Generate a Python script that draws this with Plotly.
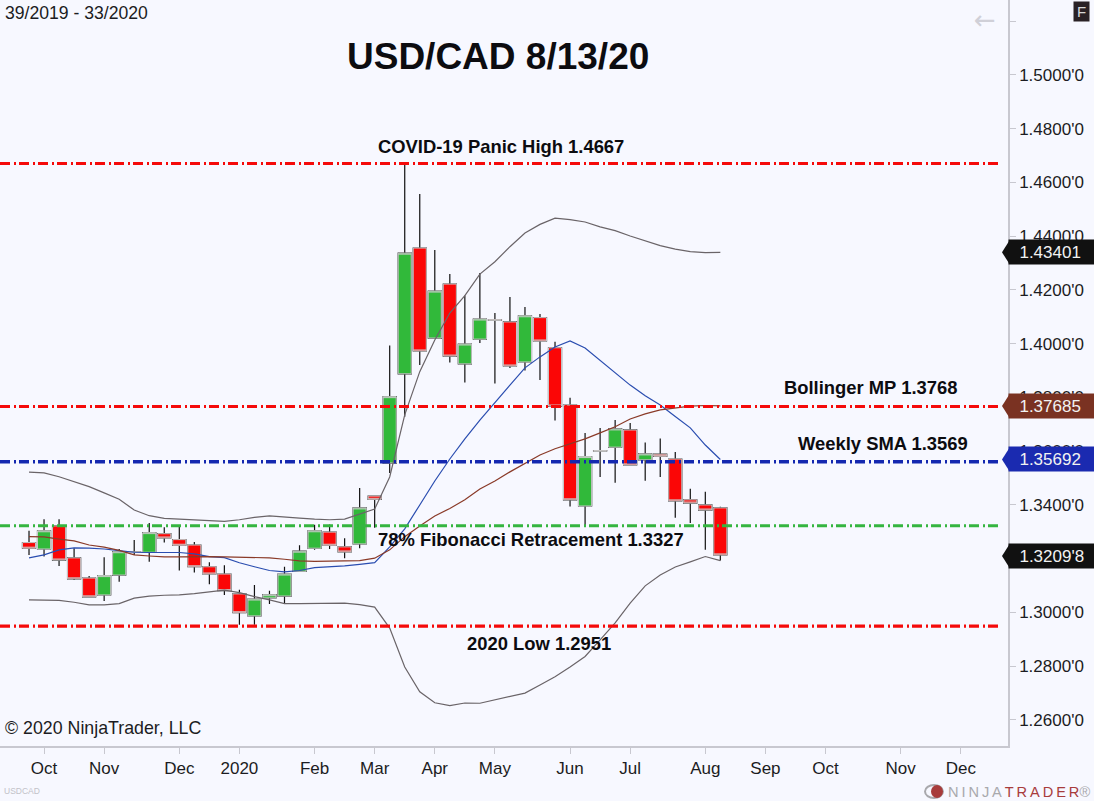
import plotly.graph_objects as go

# weekly bars, week 39/2019 to week 33/2020
weeks = list(range(47))
opens = [1.3260,1.3236,1.3322,1.3203,1.3128,1.3065,1.3139,1.3225,1.3224,1.3293,1.3271,1.3251,1.3170,1.3143,1.3069,1.2987,1.3054,1.3061,1.3153,1.3239,1.3299,1.3244,1.3255,1.3433,1.3556,1.3888,1.4356,1.4021,1.4222,1.3925,1.4017,1.4089,1.4081,1.3932,1.4097,1.3985,1.3772,1.3396,1.3602,1.3615,1.3679,1.3568,1.3589,1.3571,1.3419,1.3400,1.3389]
highs = [1.3304,1.3347,1.3347,1.3239,1.3136,1.3205,1.3236,1.3270,1.3333,1.3317,1.3322,1.3262,1.3187,1.3176,1.3084,1.3102,1.3081,1.3170,1.3250,1.3326,1.3327,1.3276,1.3463,1.3435,1.3993,1.4667,1.4557,1.4349,1.4259,1.4179,1.4263,1.4114,1.4174,1.4137,1.4111,1.4007,1.3799,1.3668,1.3686,1.3716,1.3705,1.3632,1.3647,1.3597,1.3460,1.3449,1.3393]
lows = [1.3214,1.3208,1.3173,1.3121,1.3057,1.3043,1.3114,1.3214,1.3189,1.3260,1.3156,1.3149,1.3105,1.3065,1.2954,1.2954,1.3031,1.3034,1.3153,1.3233,1.3236,1.3202,1.3239,1.3315,1.3519,1.3728,1.3921,1.4021,1.3930,1.3856,1.4003,1.3852,1.3910,1.3900,1.3865,1.3714,1.3394,1.3318,1.3504,1.3483,1.3549,1.3490,1.3504,1.3352,1.3333,1.3233,1.3193]
closes = [1.3239,1.3304,1.3195,1.3125,1.3058,1.3137,1.3226,1.3223,1.3297,1.3277,1.3250,1.3170,1.3143,1.3081,1.2999,1.3050,1.3066,1.3143,1.3228,1.3304,1.3250,1.3225,1.3389,1.3421,1.3803,1.4337,1.3973,1.4196,1.3954,1.3999,1.4092,1.4088,1.3917,1.4104,1.4010,1.3768,1.3419,1.3580,1.3601,1.3683,1.3549,1.3590,1.3581,1.3415,1.3407,1.3381,1.3214]

upper_band = [1.3522,1.3519,1.3505,1.3487,1.3468,1.3445,1.3421,1.3381,1.3360,1.3350,1.3347,1.3345,1.3342,1.3339,1.3345,1.3354,1.3359,1.3356,1.3351,1.3347,1.3345,1.3347,1.3366,1.3385,1.3504,1.3735,1.3896,1.4014,1.4114,1.4179,1.4259,1.4305,1.4361,1.4412,1.4444,1.4467,1.4462,1.4453,1.4435,1.4421,1.4401,1.4382,1.4365,1.4352,1.4343,1.4339,1.4340]
lower_band = [1.3047,1.3047,1.3045,1.3038,1.3028,1.3028,1.3033,1.3053,1.3061,1.3064,1.3065,1.3070,1.3076,1.3083,1.3074,1.3059,1.3047,1.3033,1.3033,1.3033,1.3033,1.3035,1.3029,1.3020,1.2942,1.2797,1.2705,1.2664,1.2653,1.2663,1.2662,1.2674,1.2686,1.2700,1.2730,1.2761,1.2797,1.2836,1.2898,1.2961,1.3035,1.3099,1.3139,1.3169,1.3188,1.3208,1.3193]
sma_line = [1.3203,1.3214,1.3233,1.3240,1.3239,1.3236,1.3230,1.3224,1.3223,1.3223,1.3223,1.3218,1.3208,1.3204,1.3185,1.3170,1.3156,1.3151,1.3156,1.3167,1.3170,1.3173,1.3179,1.3185,1.3244,1.3311,1.3400,1.3489,1.3571,1.3646,1.3716,1.3783,1.3846,1.3910,1.3951,1.3988,1.4010,1.3984,1.3937,1.3891,1.3846,1.3806,1.3772,1.3729,1.3687,1.3623,1.3569]
mid_band = [1.3282,1.3281,1.3273,1.3266,1.3251,1.3243,1.3231,1.3214,1.3210,1.3207,1.3207,1.3208,1.3208,1.3207,1.3205,1.3204,1.3203,1.3198,1.3192,1.3190,1.3190,1.3192,1.3193,1.3202,1.3233,1.3282,1.3322,1.3359,1.3387,1.3419,1.3459,1.3489,1.3523,1.3556,1.3586,1.3609,1.3627,1.3646,1.3668,1.3691,1.3720,1.3739,1.3754,1.3762,1.3768,1.3770,1.3769]

# levels as drawn in the picture
level_covid = 1.4671
level_boll = 1.3766
level_sma = 1.3561
level_fib = 1.3323
level_low = 1.2949

price_ticks = [1.26,1.28,1.30,1.32,1.34,1.36,1.38,1.40,1.42,1.44,1.46,1.48,1.50,1.52]
price_labels = ["1.2600'0","1.2800'0","1.3000'0","1.3200'0","1.3400'0","1.3600'0","1.3800'0","1.4000'0","1.4200'0","1.4400'0","1.4600'0","1.4800'0","1.5000'0",""]
month_ticks = [1,5,10,14,19,23,27,31,36,40,45,49,53,58,62]
month_labels = ["Oct","Nov","Dec","2020","Feb","Mar","Apr","May","Jun","Jul","Aug","Sep","Oct","Nov","Dec"]

tag_values = [1.43401,1.37685,1.35692,1.32098]
tag_labels = ["1.43401","1.37685","1.35692","1.3209'8"]
tag_colors = ["#111111","#7a3222","#1a2ab0","#111111"]

W, H = 1094, 801
PLOT_W, PLOT_H = 1008, 746
X0, X1 = -1.93, 65.14
Y0, Y1 = 1.2503, 1.5279
LEVEL_END = 64.74
BG = "#f7f8ff"
SANS = "Liberation Sans"
INK = "#1c1c22"

fig = go.Figure()

# wicks underneath
fig.add_trace(go.Candlestick(
    x=weeks, open=opens, high=highs, low=lows, close=closes,
    increasing=dict(line=dict(color="#111111", width=1.2), fillcolor="#111111"),
    decreasing=dict(line=dict(color="#111111", width=1.2), fillcolor="#111111"),
    whiskerwidth=0, hoverinfo="skip", showlegend=False))
# bodies on top
fig.add_trace(go.Candlestick(
    x=weeks, open=opens, close=closes,
    high=[max(o, c) for o, c in zip(opens, closes)],
    low=[min(o, c) for o, c in zip(opens, closes)],
    increasing=dict(line=dict(color="#c9c9c9", width=1), fillcolor="#31b93a"),
    decreasing=dict(line=dict(color="#c9c9c9", width=1), fillcolor="#fb0606"),
    whiskerwidth=0, hoverinfo="skip", showlegend=False))

for series, col in [(upper_band, "#6a6468"), (lower_band, "#6a6468"), (sma_line, "#2a4db0"), (mid_band, "#8a3a28")]:
    fig.add_trace(go.Scatter(x=weeks, y=series, mode="lines", line=dict(color=col, width=1.2),
                             hoverinfo="skip", showlegend=False))

for lvl, col, wd in [(level_covid, "#f50a0a", 3), (level_boll, "#f50a0a", 3), (level_sma, "#1428b0", 3.4),
                     (level_low, "#f50a0a", 3.4), (level_fib, "#35b540", 3)]:
    fig.add_trace(go.Scatter(x=[X0, LEVEL_END], y=[lvl, lvl], mode="lines",
                             line=dict(color=col, width=wd, dash="10px,4px,2px,3px"),
                             hoverinfo="skip", showlegend=False))

def px(x):
    return x / PLOT_W

def py(y):
    return 1 - y / PLOT_H

def label(text, x, y, size=18.4, color=INK, bold=False, anchor="center", family=SANS, **kw):
    fig.add_annotation(text=f"<b>{text}</b>" if bold else text, xref="paper", yref="paper",
                       x=px(x), y=py(y), xanchor=anchor, yanchor="middle", showarrow=False,
                       font=dict(family=family, size=size, color=color), **kw)

label("USD/CAD 8/13/20", 498, 56, size=37, color="#0c0c10", bold=True)
label("COVID-19 Panic High 1.4667", 501, 146, bold=True, color="#0c0c10")
label("Bollinger MP 1.3768", 870, 387, bold=True, color="#0c0c10")
label("Weekly SMA 1.3569", 883, 444, bold=True, color="#0c0c10")
label("78% Fibonacci Retracement 1.3327", 531, 539, bold=True, color="#0c0c10")
label("2020 Low 1.2951", 539, 643, bold=True, color="#0c0c10")
label("39/2019 - 33/2020", 3, 13, size=17.6, anchor="left")
label("© 2020 NinjaTrader, LLC", 3, 728, size=17.8, anchor="left")
label("USDCAD", 2, 791, size=8.5, color="#c2c2c8", anchor="left")
label("←", 985, 20, size=26, color="#d0d0d8", family="DejaVu Sans")
label("F", 1081, 11, size=15, color="#d8d8d8", bgcolor="#2a2226", width=13, height=17)

sp = "\u2009"
label(f'<span style="color:#a9a9ad">{sp.join("NINJA")}</span>{sp}<span style="color:#a83c3c">{sp.join("TRADER")}</span>'
      f'<span style="color:#a9a9ad">®</span>', 1092, 792, size=14.6, anchor="right")

for val, txt, col in zip(tag_values, tag_labels, tag_colors):
    # pointer of the price tag, anchored on the tag's price
    fig.add_shape(type="path", xref="paper", xsizemode="pixel", xanchor=1.0,
                  yref="y", ysizemode="pixel", yanchor=val,
                  path="M-6,0 L1,11 L1,-11 Z", fillcolor=col, line=dict(width=0), layer="above")
    fig.add_annotation(text="\u00a0\u00a0" + txt, xref="paper", yref="y", x=1.0, y=val, xanchor="left", yanchor="middle",
                       showarrow=False, width=86, height=22, bgcolor=col, align="left",
                       font=dict(family=SANS, size=17, color="#f2f2f2"))

# logo
fig.add_shape(type="circle", xref="paper", yref="paper", x0=px(925), x1=px(943), y0=py(798), y1=py(785),
              line=dict(color="#a9a9ad", width=2), fillcolor=BG)
fig.add_shape(type="circle", xref="paper", yref="paper", x0=px(932), x1=px(942), y0=py(797), y1=py(786),
              line=dict(color="#a83c3c", width=2), fillcolor="#a83c3c")

fig.update_layout(
    width=W, height=H, autosize=False,
    margin=dict(l=0, r=W - PLOT_W, t=0, b=H - PLOT_H, pad=0),
    paper_bgcolor=BG, plot_bgcolor=BG,
    showlegend=False, boxgap=0.13, boxgroupgap=0,
    font=dict(family=SANS, size=17, color=INK),
    xaxis=dict(range=[X0, X1], rangeslider=dict(visible=False), showgrid=False, zeroline=False,
               tickmode="array", tickvals=month_ticks, ticktext=month_labels,
               ticks="outside", ticklen=6, tickcolor="#c8c8d0", tickwidth=1,
               showline=True, linecolor="#c8c8d0", linewidth=1.5,
               tickfont=dict(family=SANS, size=17, color=INK)),
    yaxis=dict(range=[Y0, Y1], side="right", showgrid=False, zeroline=False,
               tickmode="array", tickvals=price_ticks, ticktext=price_labels,
               ticks="outside", ticklen=6, tickcolor="#c8c8d0", tickwidth=1,
               showline=True, linecolor="#c8c8d0", linewidth=1.5,
               tickfont=dict(family=SANS, size=17, color=INK)),
)

fig.write_html("out.html", config=dict(displayModeBar=False),
               post_script="document.body.style.margin='0';document.body.style.background='%s';" % BG)
